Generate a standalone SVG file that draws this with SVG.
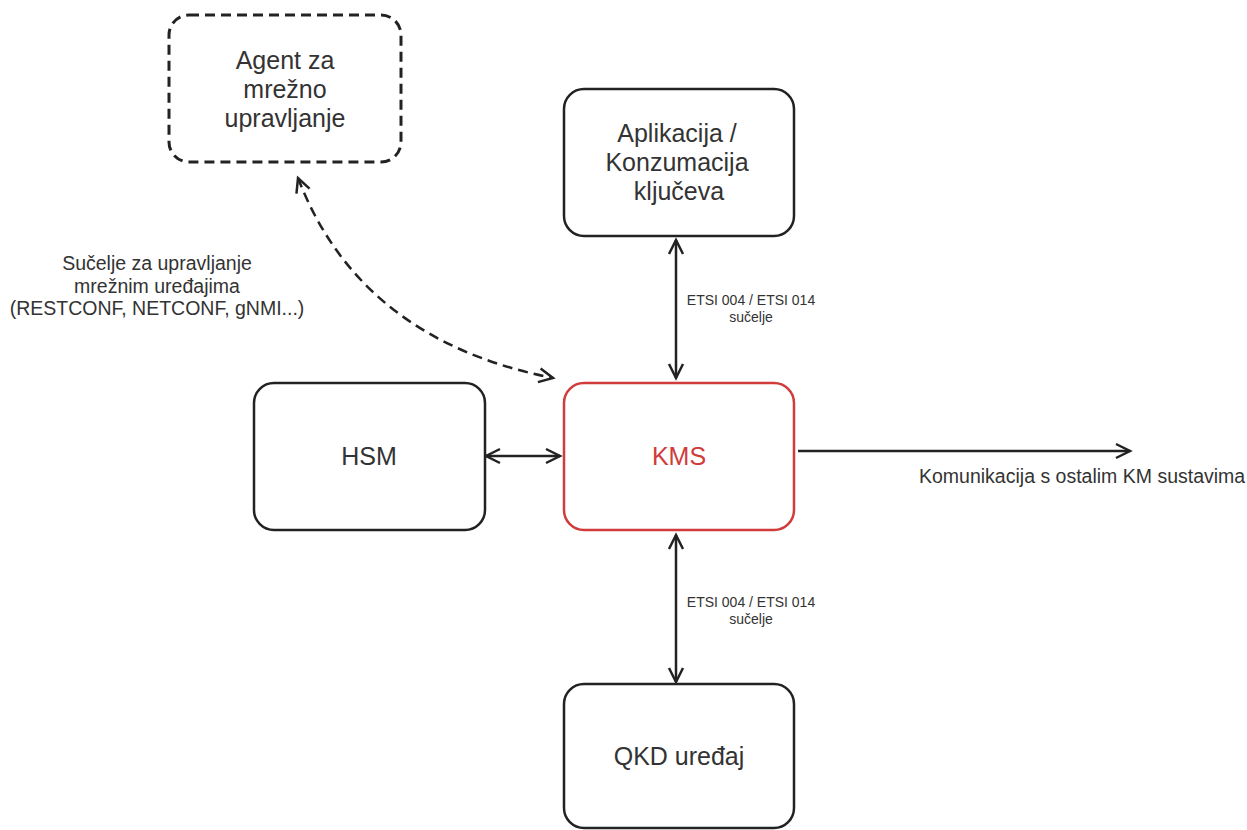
<svg xmlns="http://www.w3.org/2000/svg" width="1247" height="830" viewBox="0 0 1247 830">
<style>
.box{fill:#fff;stroke:#222;stroke-width:2.5}
.red{stroke:#d03b3b}
.dash{stroke-dasharray:10 6;stroke-width:3}
.t{font-family:"Liberation Sans",Arial,sans-serif;fill:#333;text-anchor:middle}
.n{font-size:25px}
.s{font-size:14px}
.m{font-size:19.5px}
.c{fill:none;stroke:#222;stroke-width:2.5}
</style>
<defs>
<marker id="a" viewBox="0 0 20 20" refX="17" refY="10" markerWidth="20" markerHeight="20" markerUnits="userSpaceOnUse" orient="auto-start-reverse">
<path d="M3 3 L17 10 L3 17" fill="none" stroke="#222" stroke-width="2.5"/>
</marker>
</defs>
<rect width="1247" height="830" fill="#fff"/>
<g id="connectors">
<path class="c" d="M676 240 V378" marker-start="url(#a)" marker-end="url(#a)"/>
<path class="c" d="M676 535 V682" marker-start="url(#a)" marker-end="url(#a)"/>
<path class="c" d="M486 456 H560" marker-start="url(#a)" marker-end="url(#a)"/>
<path class="c" d="M798 451 H1130" marker-end="url(#a)"/>
<path class="c dash" d="M298 178 Q 360 340 553 378" marker-start="url(#a)" marker-end="url(#a)"/>
<text class="t s" x="751" y="305">ETSI 004 / ETSI 014</text>
<text class="t s" x="751" y="322">sučelje</text>
<text class="t s" x="751" y="607">ETSI 004 / ETSI 014</text>
<text class="t s" x="751" y="624">sučelje</text>
<text class="t m" x="919" y="483" style="text-anchor:start">Komunikacija s ostalim KM sustavima</text>
<text class="t m" x="157" y="270">Sučelje za upravljanje</text>
<text class="t m" x="157" y="293">mrežnim uređajima</text>
<text class="t m" x="157" y="315">(RESTCONF, NETCONF, gNMI...)</text>
</g>
<g id="agent">
<rect class="box dash" x="169" y="15" width="232" height="147" rx="20"/>
<text class="t n" x="285" y="69">Agent za</text>
<text class="t n" x="285" y="98">mrežno</text>
<text class="t n" x="285" y="127">upravljanje</text>
</g>
<g id="aplikacija">
<rect class="box" x="564" y="89" width="230" height="147" rx="20"/>
<text class="t n" x="677" y="142">Aplikacija /</text>
<text class="t n" x="677" y="171">Konzumacija</text>
<text class="t n" x="679" y="200">ključeva</text>
</g>
<g id="hsm">
<rect class="box" x="254" y="383" width="231" height="147" rx="20"/>
<text class="t n" x="369" y="465">HSM</text>
</g>
<g id="kms">
<rect class="box red" x="564" y="383" width="230" height="147" rx="20"/>
<text class="t n" x="679" y="465" style="fill:#d03b3b">KMS</text>
</g>
<g id="qkd">
<rect class="box" x="564" y="684" width="230" height="144" rx="20"/>
<text class="t n" x="679" y="765">QKD uređaj</text>
</g>
</svg>
